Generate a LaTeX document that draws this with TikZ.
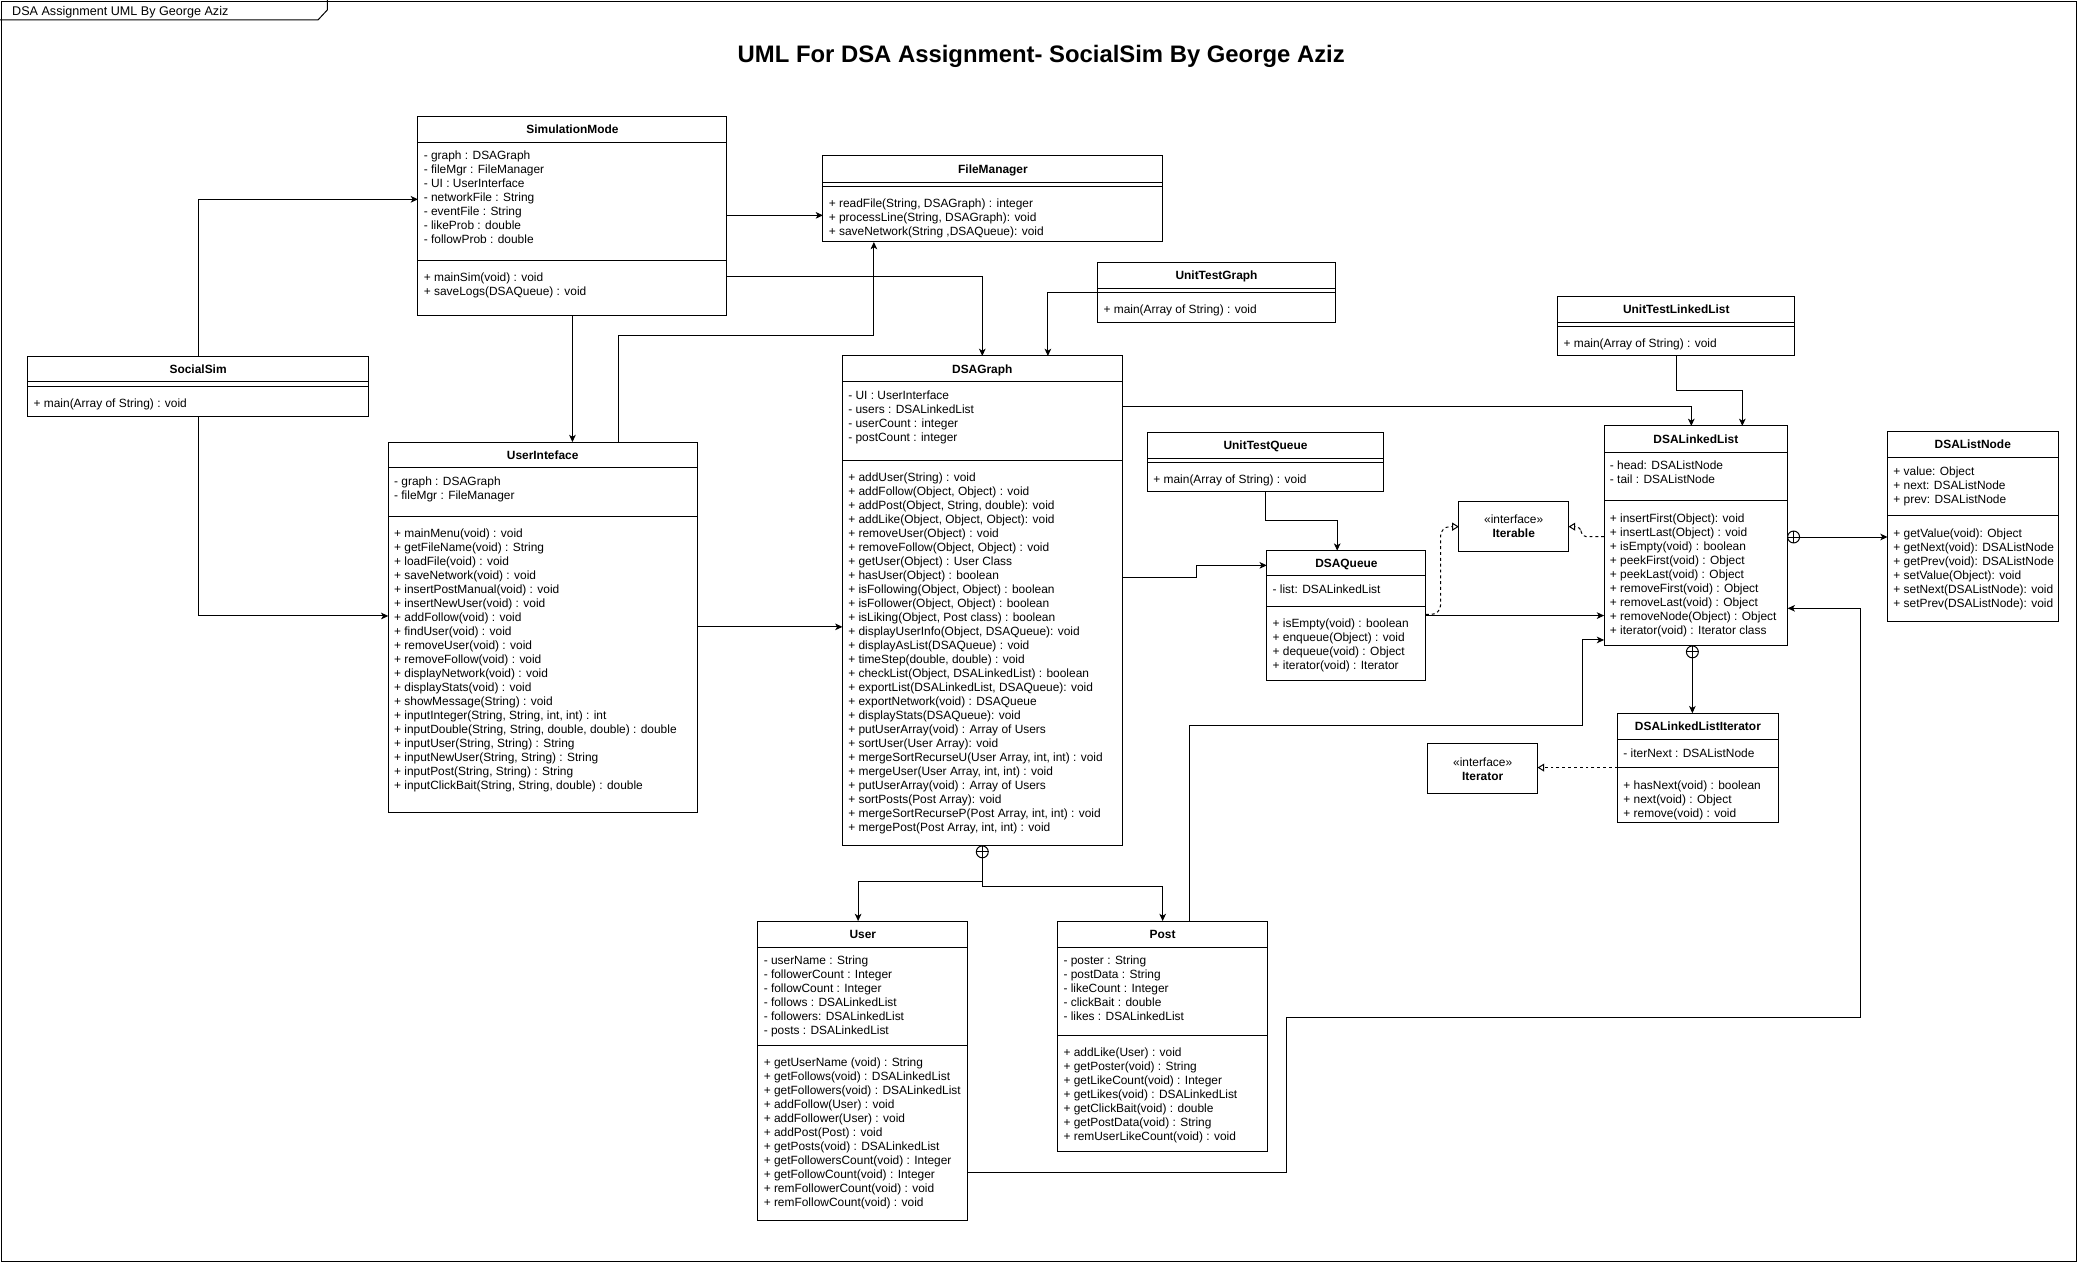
\documentclass[tikz,border=0pt]{standalone}
\usepackage{fontspec}
\setmainfont{Liberation Sans}
\usetikzlibrary{arrows.meta}
\tikzset{
  box/.style={rectangle, draw=black, line width=0.75pt, fill=white, inner sep=0pt, outer sep=0pt},
  divl/.style={line width=0.75pt},
  txt/.style={font=\fontsize{9}{10.56}\selectfont, inner sep=0pt, anchor=base west},
  ctxt/.style={font=\fontsize{9}{10.56}\selectfont, inner sep=0pt, anchor=base},
  ttl/.style={font=\fontsize{9}{10.56}\selectfont\bfseries, inner sep=0pt, anchor=base},
  conn/.style={line width=0.75pt, -{Stealth[length=5.5pt,width=5pt,inset=1.5pt]}},
  real/.style={line width=0.75pt, dash pattern=on 2.2pt off 2.2pt, -{Triangle[open,length=5pt,width=6pt]}},
  cplus/.style={circle, draw, line width=0.75pt, fill=white, minimum size=9pt, inner sep=0pt},
}
\newcommand{\umlclass}[7]{%
  \node[box, minimum width={(#4)-(#2)}, minimum height={(#5)-(#3)}] (#1) at ({((#2)+(#4))/2},{((#3)+(#5))/2}) {};
  \node[ttl] (#1-title) at ({((#2)+(#4))/2},{((#3)+(#6))/2+3.2}) {#7};
  \draw[divl] (#2,#6) -- (#4,#6);
}
\newcommand{\umldiv}[3]{\draw[divl] (#1,#3) -- (#2,#3);}
\newcommand{\umllines}[4]{%
  \foreach \ltext [count=\li] in {#4} {
    \node[txt] (#1-\li) at ({#2},{(#3)+(\li-1)*10.56+3.2}) {\ltext};
  }
}
\begin{document}
\begin{tikzpicture}[x=1pt,y=-1pt]
\useasboundingbox (0,0) rectangle (1568,953);
% frame
\node[rectangle, draw, line width=1pt, minimum width=1566, minimum height=951, inner sep=0pt] (frame) at (784,476.5) {};
\draw[line width=0.75pt] (0,15) -- (240,15) -- (247,7.5) -- (247,0);
\node[anchor=base west, inner sep=0pt, font=\fontsize{9.5}{11}\selectfont] (frametitle) at (9,12) {DSA Assignment UML By George Aziz};
\node[anchor=base, inner sep=0pt, font=\fontsize{18}{21}\selectfont\bfseries] (title) at (785.7,47.5) {UML For DSA Assignment- SocialSim By George Aziz};

% SimulationMode
\umlclass{sim}{315.4}{87.8}{548.5}{238.4}{107.4}{SimulationMode}
\umldiv{315.4}{548.5}{196.4}
\umllines{sim-a}{319.6}{117.5}{{- graph : DSAGraph},{- fileMgr : FileManager},{- UI : UserInterface},{- networkFile : String},{- eventFile : String},{- likeProb : double},{- followProb : double}}
\umllines{sim-m}{319.6}{209.5}{{+ mainSim(void) : void},{+ saveLogs(DSAQueue) : void}}

% FileManager
\umlclass{fm}{621}{117.7}{877.5}{182.6}{137.8}{FileManager}
\umldiv{621}{877.5}{140.6}
\umllines{fm-m}{625.2}{153.4}{{+ readFile(String, DSAGraph) : integer},{+ processLine(String, DSAGraph): void},{+ saveNetwork(String ,DSAQueue): void}}

% SocialSim
\umlclass{social}{21}{269}{278}{314}{288.2}{SocialSim}
\umldiv{21}{278}{291.8}
\umllines{social-m}{25.2}{304}{{+ main(Array of String) : void}}

% UserInteface
\umlclass{ui}{293}{333.6}{526}{613}{353}{UserInteface}
\umldiv{293}{526}{390}
\umllines{ui-a}{297.2}{363.4}{{- graph : DSAGraph},{- fileMgr : FileManager}}
\umllines{ui-m}{297.2}{402.7}{{+ mainMenu(void) : void},{+ getFileName(void) : String},{+ loadFile(void) : void},{+ saveNetwork(void) : void},{+ insertPostManual(void) : void},{+ insertNewUser(void) : void},{+ addFollow(void) : void},{+ findUser(void) : void},{+ removeUser(void) : void},{+ removeFollow(void) : void},{+ displayNetwork(void) : void},{+ displayStats(void) : void},{+ showMessage(String) : void},{+ inputInteger(String, String, int, int) : int},{+ inputDouble(String, String, double, double) : double},{+ inputUser(String, String) : String},{+ inputNewUser(String, String) : String},{+ inputPost(String, String) : String},{+ inputClickBait(String, String, double) : double}}

% DSAGraph
\umlclass{graph}{635.7}{268.6}{846.7}{638.3}{288.2}{DSAGraph}
\umldiv{635.7}{846.7}{347.6}
\umllines{graph-a}{639.9}{298.5}{{- UI : UserInterface},{- users : DSALinkedList},{- userCount : integer},{- postCount : integer}}
\umllines{graph-m}{639.9}{360.2}{{+ addUser(String) : void},{+ addFollow(Object, Object) : void},{+ addPost(Object, String, double): void},{+ addLike(Object, Object, Object): void},{+ removeUser(Object) : void},{+ removeFollow(Object, Object) : void},{+ getUser(Object) : User Class},{+ hasUser(Object) : boolean},{+ isFollowing(Object, Object) : boolean},{+ isFollower(Object, Object) : boolean},{+ isLiking(Object, Post class) : boolean},{+ displayUserInfo(Object, DSAQueue): void},{+ displayAsList(DSAQueue) : void},{+ timeStep(double, double) : void},{+ checkList(Object, DSALinkedList) : boolean},{+ exportList(DSALinkedList, DSAQueue): void},{+ exportNetwork(void) : DSAQueue},{+ displayStats(DSAQueue): void},{+ putUserArray(void) : Array of Users},{+ sortUser(User Array): void},{+ mergeSortRecurseU(User Array, int, int) : void},{+ mergeUser(User Array, int, int) : void},{+ putUserArray(void) : Array of Users},{+ sortPosts(Post Array): void},{+ mergeSortRecurseP(Post Array, int, int) : void},{+ mergePost(Post Array, int, int) : void}}

% UnitTestGraph
\umlclass{utg}{828.3}{198.2}{1007.6}{243}{217.6}{UnitTestGraph}
\umldiv{828.3}{1007.6}{220.6}
\umllines{utg-m}{832.5}{233.7}{{+ main(Array of String) : void}}

% UnitTestQueue
\umlclass{utq}{865.9}{326}{1044}{371}{345.8}{UnitTestQueue}
\umldiv{865.9}{1044}{348.8}
\umllines{utq-m}{870.1}{361.9}{{+ main(Array of String) : void}}

% UnitTestLinkedList
\umlclass{utll}{1175.4}{223.8}{1354.3}{268.6}{243.2}{UnitTestLinkedList}
\umldiv{1175.4}{1354.3}{246.2}
\umllines{utll-m}{1179.6}{259}{{+ main(Array of String) : void}}

% DSAQueue
\umlclass{queue}{955.9}{415.5}{1076}{513.1}{434.6}{DSAQueue}
\umldiv{955.9}{1076}{457.5}
\umllines{queue-a}{960.1}{444.9}{{- list: DSALinkedList}}
\umllines{queue-m}{960.1}{470.6}{{+ isEmpty(void) : boolean},{+ enqueue(Object) : void},{+ dequeue(void) : Object},{+ iterator(void) : Iterator}}

% DSALinkedList
\umlclass{ll}{1210.4}{321.4}{1348.9}{487.4}{341.3}{DSALinkedList}
\umldiv{1210.4}{1348.9}{377.5}
\umllines{ll-a}{1214.6}{351.1}{{- head: DSAListNode},{- tail : DSAListNode}}
\umllines{ll-m}{1214.6}{390.9}{{+ insertFirst(Object): void},{+ insertLast(Object) : void},{+ isEmpty(void) : boolean},{+ peekFirst(void) : Object},{+ peekLast(void) : Object},{+ removeFirst(void) : Object},{+ removeLast(void) : Object},{+ removeNode(Object) : Object},{+ iterator(void) : Iterator class}}

% DSAListNode
\umlclass{ln}{1424.3}{325.7}{1552.9}{468.6}{345.3}{DSAListNode}
\umldiv{1424.3}{1552.9}{389.3}
\umllines{ln-a}{1428.5}{355.9}{{+ value: Object},{+ next: DSAListNode},{+ prev: DSAListNode}}
\umllines{ln-m}{1428.5}{402.7}{{+ getValue(void): Object},{+ getNext(void): DSAListNode},{+ getPrev(void): DSAListNode},{+ setValue(Object): void},{+ setNext(DSAListNode): void},{+ setPrev(DSAListNode): void}}

% DSALinkedListIterator
\umlclass{lli}{1220.6}{538.2}{1341.8}{621}{557.9}{DSALinkedListIterator}
\umldiv{1220.6}{1341.8}{579}
\umllines{lli-a}{1224.8}{568.4}{{- iterNext : DSAListNode}}
\umllines{lli-m}{1224.8}{592.3}{{+ hasNext(void) : boolean},{+ next(void) : Object},{+ remove(void) : void}}

% User
\umlclass{user}{571.9}{695}{730.3}{921.3}{714.8}{User}
\umldiv{571.9}{730.3}{788.7}
\umllines{user-a}{576.1}{724.6}{{- userName : String},{- followerCount : Integer},{- followCount : Integer},{- follows : DSALinkedList},{- followers: DSALinkedList},{- posts : DSALinkedList}}
\umllines{user-m}{576.1}{801.6}{{+ getUserName (void) : String},{+ getFollows(void) : DSALinkedList},{+ getFollowers(void) : DSALinkedList},{+ addFollow(User) : void},{+ addFollower(User) : void},{+ addPost(Post) : void},{+ getPosts(void) : DSALinkedList},{+ getFollowersCount(void) : Integer},{+ getFollowCount(void) : Integer},{+ remFollowerCount(void) : void},{+ remFollowCount(void) : void}}

% Post
\umlclass{post}{798.1}{695}{956.5}{868.7}{714.8}{Post}
\umldiv{798.1}{956.5}{781.2}
\umllines{post-a}{802.3}{724.6}{{- poster : String},{- postData : String},{- likeCount : Integer},{- clickBait : double},{- likes : DSALinkedList}}
\umllines{post-m}{802.3}{794}{{+ addLike(User) : void},{+ getPoster(void) : String},{+ getLikeCount(void) : Integer},{+ getLikes(void) : DSALinkedList},{+ getClickBait(void) : double},{+ getPostData(void) : String},{+ remUserLikeCount(void) : void}}

% Interfaces
\node[box, minimum width=82.8, minimum height=37.5] (iterable) at (1142.2,397.05) {};
\node[ctxt] (iterable-s) at (1142.2,395.3) {«interface»};
\node[ttl] (iterable-t) at (1142.2,405.9) {Iterable};
\node[box, minimum width=82.9, minimum height=37.7] (iterator) at (1118.75,579.75) {};
\node[ctxt] (iterator-s) at (1118.75,578.7) {«interface»};
\node[ttl] (iterator-t) at (1118.75,588.7) {Iterator};

% connectors
\draw[conn] (social.north) |- (sim.west |- 0,150.4);
\draw[conn] (social.south) |- (ui.west |- 0,464.8);
\draw[conn] (sim.east |- 0,162.5) -- (fm.west |- 0,162.5);
\draw[conn] (sim.east |- 0,208.3) -| (graph.north);
\draw[conn] (sim.south) -- (sim.south |- ui.north);
\draw[conn] (ui.north -| 466.9,0) -- (466.9,253.5) -| (fm.south -| 659.4,0);
\draw[conn] (utg.west |- 0,220.6) -| (graph.north -| 790.7,0);
\draw[conn] (graph.east |- 0,306.4) -| (ll.north -| 1276.2,0);
\draw[conn] (utll.south) |- (1314.7,294.8) -- (ll.north -| 1314.7,0);
\draw[conn] (ui.east |- 0,473) -- (graph.west |- 0,473);
\draw[conn] (graph.east |- 0,435.6) -| (902.7,426.6) -- (queue.west |- 0,426.6);
\draw[conn] (utq.south) |- (1009,393.1) -- (queue.north -| 1009,0);
\draw[conn] (queue.east |- 0,464.5) -- (ll.west |- 0,464.5);
\draw[real, rounded corners=7pt] (queue.east |- 0,463.6) -| (1087,397.4) -- (iterable.west |- 0,397.4);
\draw[real, rounded corners=4pt] (ll.west |- 0,405) -| (1193,397.4) -- (iterable.east |- 0,397.4);
\draw[real] (lli.west |- 0,579.2) -- (iterator.east |- 0,579.2);
\draw[conn] (post.north -| 897.4,0) |- (1193.9,547.8) |- (ll.west |- 0,482.9);
\draw[conn] (user.east |- 0,884.8) -| (970.6,767.4) -| (1403.5,459) -- (ll.east |- 0,459);

% nested-class circles
\node[cplus] (cp1) at (741.2,642.8) {};
\node[cplus] (cp2) at (1353.4,405.2) {};
\node[cplus] (cp3) at (1277,491.9) {};
\draw[conn] (cp1.south) |- (647.5,665) -- (user.north -| 647.5,0);
\draw[conn] (cp1.south) |- (post.north |- 0,668.8) -- (post.north);
\draw[conn] (cp2.east) -- (cp2.east -| ln.west);
\draw[conn] (cp3.south) -- (cp3.south |- lli.north);
\foreach \c in {cp1,cp2,cp3} {
  \draw[divl] (\c.north) -- (\c.south) (\c.west) -- (\c.east);
}
\end{tikzpicture}
\end{document}
